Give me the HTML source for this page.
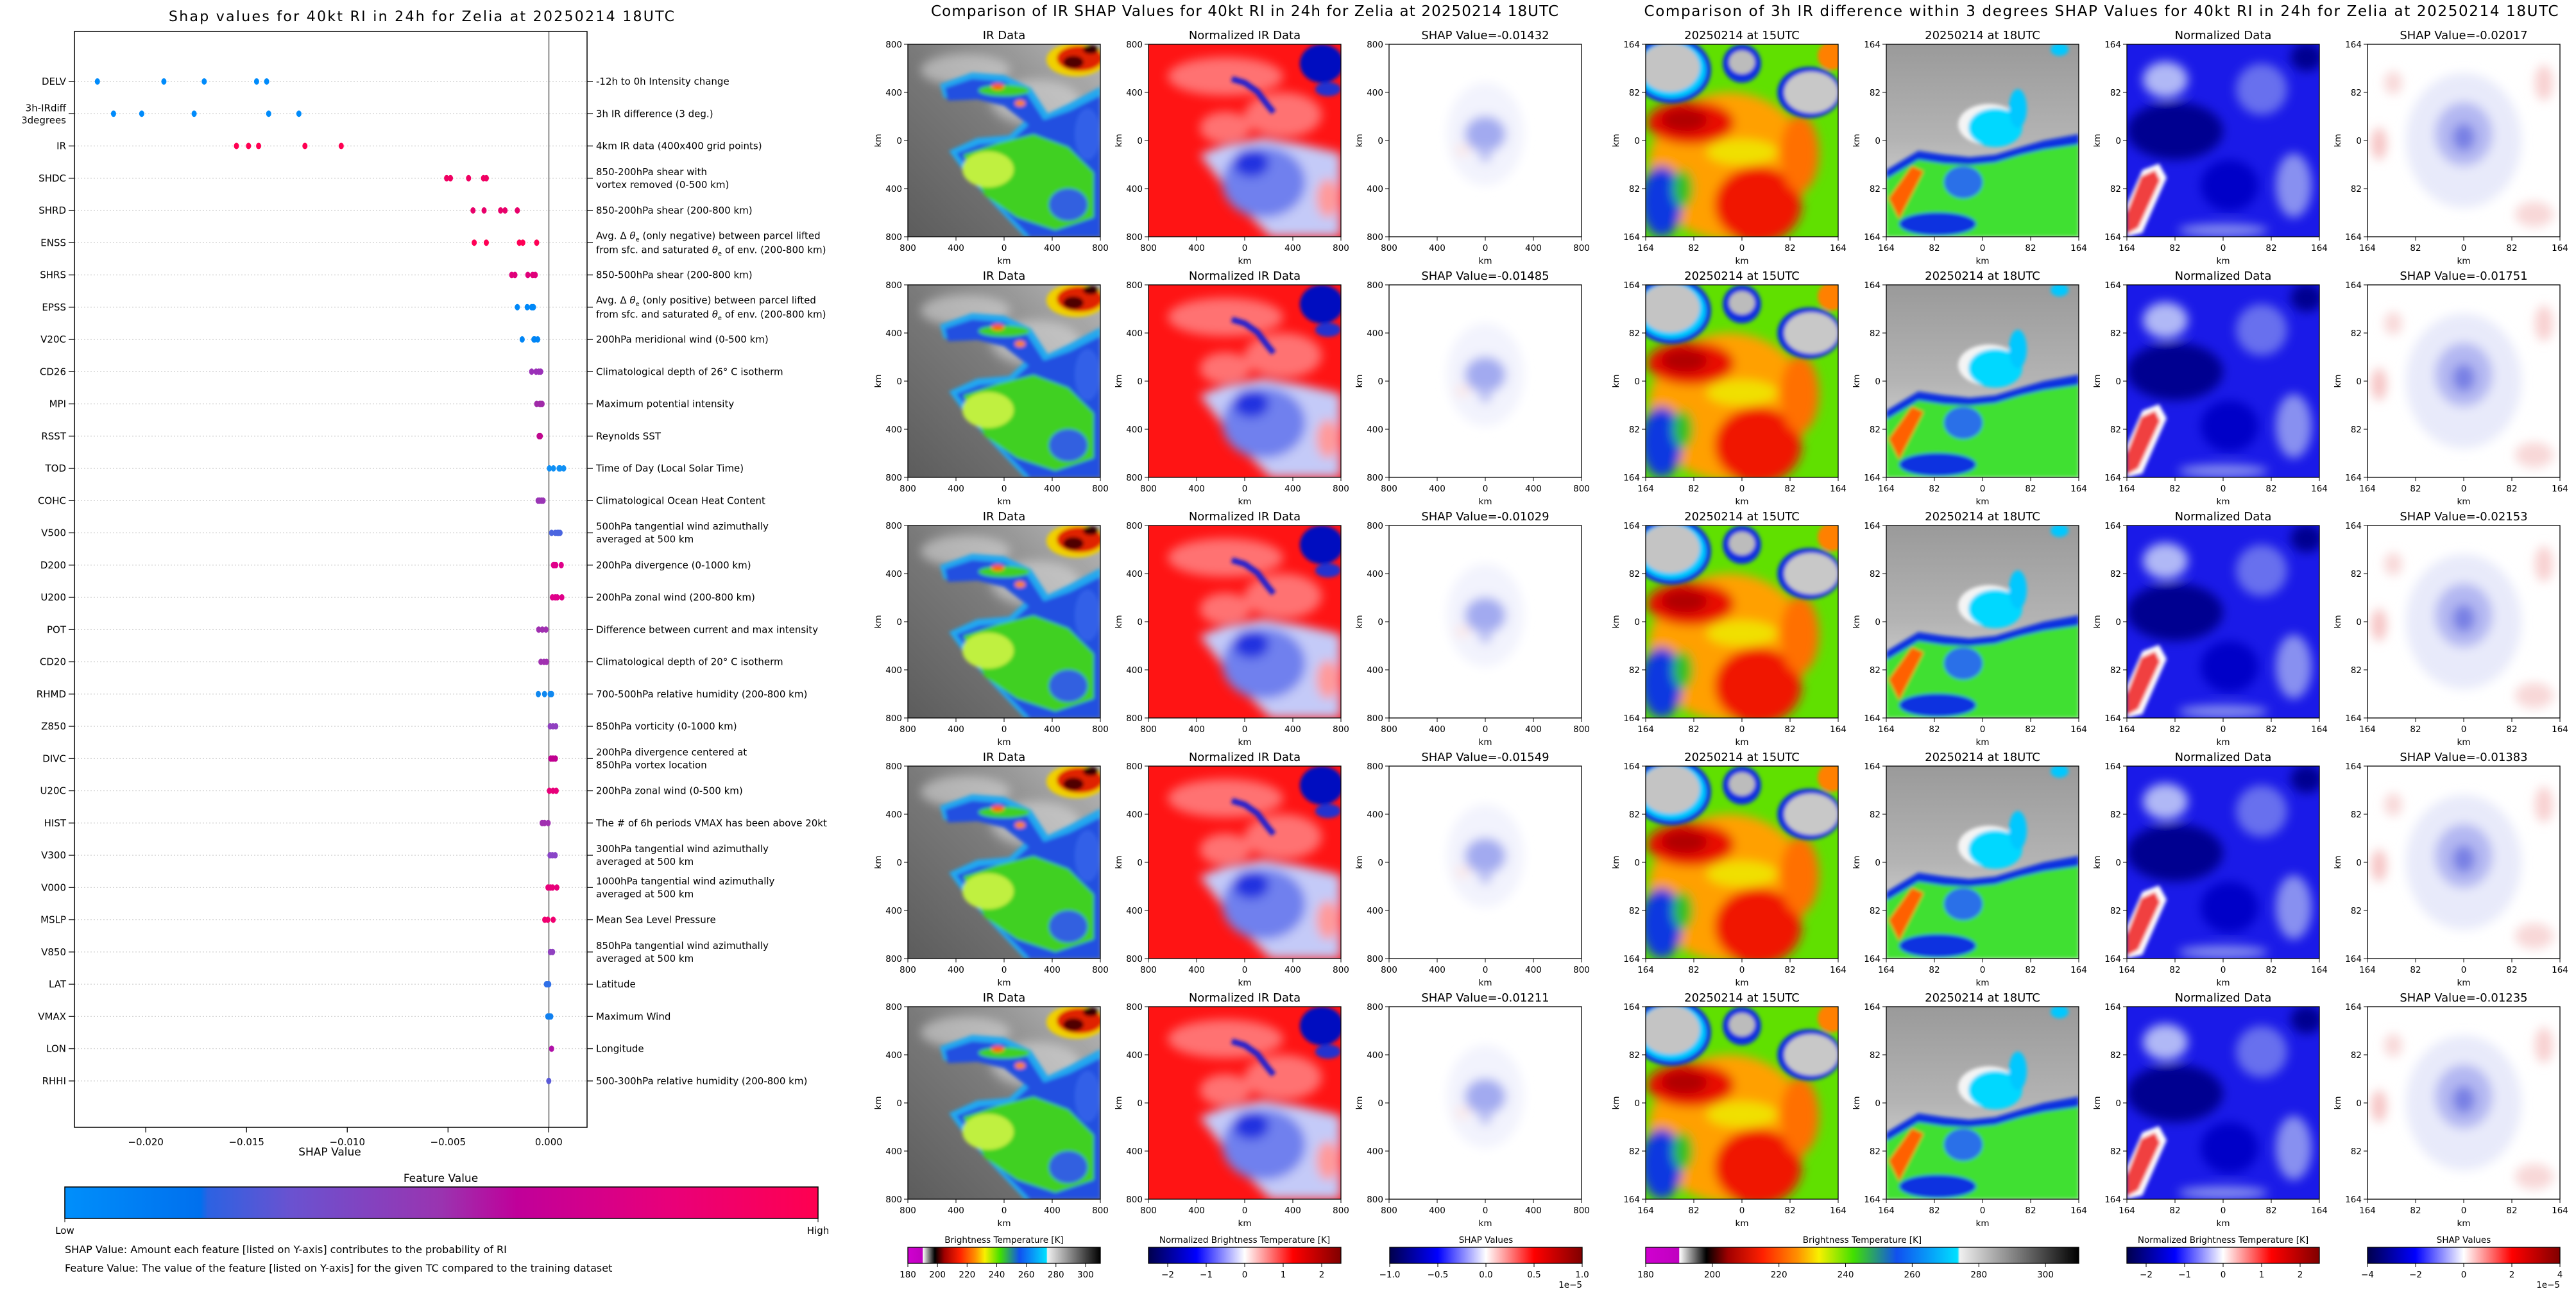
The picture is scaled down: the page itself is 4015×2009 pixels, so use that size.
<!DOCTYPE html>
<html><head><meta charset="utf-8"><title>SHAP RI Zelia</title>
<style>
html,body{margin:0;padding:0;background:#fff;}
svg{display:block;font-family:"DejaVu Sans","Liberation Sans",sans-serif;}
</style></head>
<body>
<svg id="fig" xmlns="http://www.w3.org/2000/svg" width="4015" height="2009" viewBox="0 0 4015 2009">
<defs>
  <filter id="bl3" x="-20%" y="-20%" width="140%" height="140%"><feGaussianBlur stdDeviation="3"/></filter>
  <filter id="bl8" x="-30%" y="-30%" width="160%" height="160%"><feGaussianBlur stdDeviation="8"/></filter>
  <linearGradient id="fvGrad" x1="0" x2="1" y1="0" y2="0">
    <stop offset="0" stop-color="#008ffb"/><stop offset="0.18" stop-color="#0070ee"/>
    <stop offset="0.19" stop-color="#2c62e2"/><stop offset="0.3" stop-color="#6a52d0"/>
    <stop offset="0.5" stop-color="#9a34b0"/><stop offset="0.6" stop-color="#c0009a"/>
    <stop offset="0.8" stop-color="#e8007a"/><stop offset="1" stop-color="#ff0050"/>
  </linearGradient>
  <linearGradient id="btGrad" x1="0" x2="1">
    <stop offset="0" stop-color="#d000d0"/><stop offset="0.077" stop-color="#c000c0"/>
    <stop offset="0.078" stop-color="#ffffff"/><stop offset="0.14" stop-color="#000000"/>
    <stop offset="0.19" stop-color="#a00000"/><stop offset="0.27" stop-color="#ff2000"/>
    <stop offset="0.35" stop-color="#ff9000"/><stop offset="0.4" stop-color="#f8f000"/>
    <stop offset="0.48" stop-color="#40e000"/><stop offset="0.58" stop-color="#1050f0"/>
    <stop offset="0.72" stop-color="#00e0ff"/><stop offset="0.725" stop-color="#f0f0f0"/>
    <stop offset="1" stop-color="#000000"/>
  </linearGradient>
  <linearGradient id="seis" x1="0" x2="1">
    <stop offset="0" stop-color="#00004c"/><stop offset="0.25" stop-color="#0000ff"/>
    <stop offset="0.5" stop-color="#ffffff"/><stop offset="0.75" stop-color="#ff0000"/>
    <stop offset="1" stop-color="#800000"/>
  </linearGradient>
  <linearGradient id="grayIR" x1="0" y1="1" x2="1" y2="0">
    <stop offset="0" stop-color="#5c5c5c"/><stop offset="0.5" stop-color="#7a7a7a"/><stop offset="1" stop-color="#b8b8b8"/>
  </linearGradient>
  <linearGradient id="gray18" x1="0" y1="0" x2="0" y2="1">
    <stop offset="0" stop-color="#9a9a9a"/><stop offset="0.5" stop-color="#b4b4b4"/><stop offset="1" stop-color="#e8e8e8"/>
  </linearGradient>

  <symbol id="p-ir" viewBox="0 0 300 300">
    <rect width="300" height="300" fill="url(#grayIR)"/>
    <g filter="url(#bl8)" fill="#e0e0e0" opacity="0.55">
      <ellipse cx="90" cy="40" rx="70" ry="25"/><ellipse cx="200" cy="90" rx="70" ry="35"/><ellipse cx="230" cy="150" rx="40" ry="30"/>
    </g>
    <g filter="url(#bl3)">
      <polygon fill="#20a8f0" points="50,62 100,44 150,48 192,68 218,108 252,92 300,66 300,300 182,300 136,252 90,202 64,166 108,146 158,142 182,120 148,88 108,78 56,84"/>
      <polygon fill="#2050e0" points="58,68 100,54 150,58 186,78 212,118 252,104 300,80 300,300 190,300 144,252 100,202 76,170 112,156 160,152 188,126 150,96 108,86 62,88"/>
      <polygon fill="#40d020" points="86,172 140,154 196,140 250,160 290,200 290,270 230,290 170,270 120,236"/>
      <ellipse cx="125" cy="195" rx="40" ry="28" fill="#c0f040"/>
      <ellipse cx="250" cy="250" rx="30" ry="25" fill="#3060e0"/>
      <ellipse cx="280" cy="140" rx="20" ry="40" fill="#3060e8"/>
      <ellipse cx="150" cy="72" rx="40" ry="9" fill="#40d020"/>
      <ellipse cx="140" cy="66" rx="10" ry="5" fill="#ff6000"/><ellipse cx="175" cy="92" rx="8" ry="5" fill="#ff8000"/>
      <ellipse cx="262" cy="24" rx="46" ry="26" fill="#f0d000"/>
      <ellipse cx="268" cy="22" rx="36" ry="20" fill="#e02000"/>
      <ellipse cx="258" cy="28" rx="16" ry="10" fill="#500000"/>
      <ellipse cx="285" cy="8" rx="12" ry="7" fill="#300000"/>
    </g>
  </symbol>

  <symbol id="p-nir" viewBox="0 0 300 300">
    <rect width="300" height="300" fill="#ff1414"/>
    <g filter="url(#bl8)" fill="#ffffff" opacity="0.4">
      <ellipse cx="120" cy="50" rx="90" ry="30"/><ellipse cx="210" cy="110" rx="60" ry="35"/><ellipse cx="120" cy="130" rx="40" ry="25"/>
    </g>
    <g filter="url(#bl8)">
      <polygon fill="#c4caf8" points="80,172 120,156 180,146 240,156 300,170 300,300 190,300 140,250"/>
      <ellipse cx="180" cy="215" rx="65" ry="55" fill="#7080ee"/>
      <ellipse cx="160" cy="185" rx="28" ry="22" fill="#2030e0"/>
      <ellipse cx="280" cy="240" rx="18" ry="30" fill="#ff9a9a"/>
    </g>
    <g filter="url(#bl3)">
      <polyline points="130,54 150,60 170,74 185,94 195,106" stroke="#1a1ad0" stroke-width="9" fill="none"/>
      <ellipse cx="270" cy="30" rx="34" ry="30" fill="#0010c0"/>
      <ellipse cx="280" cy="70" rx="20" ry="11" fill="#2030d0"/>
    </g>
  </symbol>

  <symbol id="p-shap" viewBox="0 0 300 300">
    <rect width="300" height="300" fill="#ffffff"/>
    <g filter="url(#bl8)">
      <ellipse cx="150" cy="140" rx="60" ry="80" fill="#f2f3fd"/>
      <ellipse cx="150" cy="140" rx="32" ry="28" fill="#a2aaf0"/>
      <ellipse cx="150" cy="172" rx="10" ry="12" fill="#b8bdf3"/>
      <ellipse cx="115" cy="165" rx="12" ry="9" fill="#fbe8e8"/>
    </g>
  </symbol>

  <symbol id="p-15" viewBox="0 0 300 300">
    <rect width="300" height="300" fill="#60e000"/>
    <g filter="url(#bl8)">
      <ellipse cx="130" cy="190" rx="125" ry="115" fill="#ffa000"/>
      <ellipse cx="70" cy="122" rx="68" ry="34" fill="#e81000"/>
      <ellipse cx="60" cy="118" rx="36" ry="18" fill="#b00000"/>
      <ellipse cx="175" cy="250" rx="68" ry="60" fill="#f01800"/>
      <ellipse cx="150" cy="168" rx="55" ry="20" fill="#f0e000"/>
      <ellipse cx="240" cy="170" rx="30" ry="60" fill="#ff7000"/>
      <ellipse cx="25" cy="245" rx="32" ry="55" fill="#1038e0"/>
      <ellipse cx="58" cy="225" rx="16" ry="30" fill="#30c020"/>
    </g>
    <g filter="url(#bl3)">
      <ellipse cx="40" cy="40" rx="62" ry="52" fill="#1030e0"/>
      <ellipse cx="40" cy="40" rx="54" ry="44" fill="#00c8ff"/>
      <ellipse cx="38" cy="36" rx="46" ry="38" fill="#c4c4c4"/>
      <ellipse cx="255" cy="75" rx="50" ry="40" fill="#1030e0"/>
      <ellipse cx="258" cy="75" rx="42" ry="32" fill="#c8c8c8"/>
      <ellipse cx="150" cy="30" rx="30" ry="30" fill="#1030e0"/>
      <ellipse cx="150" cy="28" rx="20" ry="18" fill="#bcbcbc"/>
      <ellipse cx="290" cy="18" rx="22" ry="22" fill="#ff8000"/>
    </g>
  </symbol>

  <symbol id="p-18" viewBox="0 0 300 300">
    <rect width="300" height="300" fill="url(#gray18)"/>
    <g filter="url(#bl3)">
      <ellipse cx="160" cy="125" rx="48" ry="32" fill="#f4f4f4"/>
      <polygon fill="#1030e0" points="0,196 50,166 90,172 130,176 170,172 210,160 245,150 300,140 300,300 0,300"/>
      <polygon fill="#40e030" points="0,210 50,180 90,186 130,188 170,184 210,172 245,164 300,156 300,300 0,300"/>
      <ellipse cx="170" cy="130" rx="42" ry="30" fill="#00d8ff"/>
      <ellipse cx="205" cy="100" rx="14" ry="30" fill="#00c8ff"/>
      <ellipse cx="120" cy="215" rx="30" ry="25" fill="#2a70e8"/>
      <polygon fill="#ff6000" points="4,240 40,190 58,198 20,272"/>
      <ellipse cx="80" cy="280" rx="60" ry="18" fill="#1030e0"/>
      <ellipse cx="270" cy="8" rx="14" ry="10" fill="#00c8ff"/>
    </g>
  </symbol>

  <symbol id="p-nd" viewBox="0 0 300 300">
    <rect width="300" height="300" fill="#1a1ae8"/>
    <g filter="url(#bl8)">
      <ellipse cx="60" cy="55" rx="35" ry="28" fill="#b0b8f6"/>
      <ellipse cx="210" cy="70" rx="40" ry="40" fill="#6870ee"/>
      <ellipse cx="260" cy="220" rx="28" ry="50" fill="#8890f0"/>
      <ellipse cx="150" cy="290" rx="70" ry="10" fill="#8890f0"/>
      <ellipse cx="75" cy="135" rx="75" ry="45" fill="#000090"/>
      <ellipse cx="160" cy="220" rx="45" ry="40" fill="#0000c8"/>
      <ellipse cx="280" cy="20" rx="25" ry="22" fill="#000090"/>
    </g>
    <g filter="url(#bl3)">
      <polygon fill="#ffffff" points="0,250 24,196 50,186 62,208 24,294 0,300"/>
      <polygon fill="#f04040" points="0,262 22,206 44,196 52,212 18,286 0,296"/>
    </g>
  </symbol>

  <symbol id="p-shap2" viewBox="0 0 300 300">
    <rect width="300" height="300" fill="#ffffff"/>
    <g filter="url(#bl8)">
      <ellipse cx="150" cy="150" rx="90" ry="105" fill="#e8eafa"/>
      <ellipse cx="150" cy="140" rx="45" ry="50" fill="#b4b8f2"/>
      <ellipse cx="150" cy="145" rx="18" ry="22" fill="#7880e4"/>
      <ellipse cx="18" cy="155" rx="12" ry="25" fill="#f6c4c4"/>
      <ellipse cx="275" cy="60" rx="14" ry="28" fill="#f8d0d0"/>
      <ellipse cx="260" cy="265" rx="30" ry="20" fill="#f8d8d8"/>
      <ellipse cx="40" cy="60" rx="14" ry="18" fill="#f8d8d8"/>
    </g>
  </symbol>
</defs>

<rect width="4015" height="2009" fill="#ffffff"/>

<text x="657" y="33" font-size="22" text-anchor="middle" textLength="788">Shap values for 40kt RI in 24h for Zelia at 20250214 18UTC</text>
<g id="shapPlot"></g>

<text x="687" y="1842" font-size="17" text-anchor="middle">Feature Value</text>
<rect x="101" y="1850" width="1174" height="49" fill="url(#fvGrad)" stroke="#000" stroke-width="1.5"/>
<line x1="101" y1="1899" x2="101" y2="1905" stroke="#000"/>
<line x1="1275" y1="1899" x2="1275" y2="1905" stroke="#000"/>
<text x="101" y="1923" font-size="15" text-anchor="middle">Low</text>
<text x="1275" y="1923" font-size="15" text-anchor="middle">High</text>
<text x="101" y="1953" font-size="16">SHAP Value: Amount each feature [listed on Y-axis] contributes to the probability of RI</text>
<text x="101" y="1982" font-size="16">Feature Value: The value of the feature [listed on Y-axis] for the given TC compared to the training dataset</text>

<text x="1940" y="25" font-size="23" text-anchor="middle" textLength="978">Comparison of IR SHAP Values for 40kt RI in 24h for Zelia at 20250214 18UTC</text>
<text x="3275" y="25" font-size="23" text-anchor="middle" textLength="1425">Comparison of 3h IR difference within 3 degrees SHAP Values for 40kt RI in 24h for Zelia at 20250214 18UTC</text>
<g id="panels"></g>
<g id="cbars"></g>
</svg>

<script>
const features = ["DELV","3h-IRdiff|3degrees","IR","SHDC","SHRD","ENSS","SHRS","EPSS","V20C","CD26","MPI","RSST","TOD","COHC","V500","D200","U200","POT","CD20","RHMD","Z850","DIVC","U20C","HIST","V300","V000","MSLP","V850","LAT","VMAX","LON","RHHI"];
const descriptions = ["-12h to 0h Intensity change","3h IR difference (3 deg.)","4km IR data (400x400 grid points)","850-200hPa shear with|vortex removed (0-500 km)","850-200hPa shear (200-800 km)","ENSS_DESC","850-500hPa shear (200-800 km)","EPSS_DESC","200hPa meridional wind (0-500 km)","Climatological depth of 26° C isotherm","Maximum potential intensity","Reynolds SST","Time of Day (Local Solar Time)","Climatological Ocean Heat Content","500hPa tangential wind azimuthally|averaged at 500 km","200hPa divergence (0-1000 km)","200hPa zonal wind (200-800 km)","Difference between current and max intensity","Climatological depth of 20° C isotherm","700-500hPa relative humidity (200-800 km)","850hPa vorticity (0-1000 km)","200hPa divergence centered at|850hPa vortex location","200hPa zonal wind (0-500 km)","The # of 6h periods VMAX has been above 20kt","300hPa tangential wind azimuthally|averaged at 500 km","1000hPa tangential wind azimuthally|averaged at 500 km","Mean Sea Level Pressure","850hPa tangential wind azimuthally|averaged at 500 km","Latitude","Maximum Wind","Longitude","500-300hPa relative humidity (200-800 km)"];
const shapValues = [
  [-0.0224,-0.0191,-0.0171,-0.0145,-0.0140],
  [-0.0216,-0.0202,-0.0176,-0.0139,-0.0124],
  [-0.0155,-0.0149,-0.0144,-0.0121,-0.0103],
  [-0.00507,-0.00488,-0.00398,-0.00324,-0.00310],
  [-0.00376,-0.00321,-0.00239,-0.00217,-0.00156],
  [-0.0037,-0.0031,-0.00146,-0.00129,-0.0006],
  [-0.00184,-0.00168,-0.00104,-0.0008,-0.00067],
  [-0.00156,-0.00107,-0.00085,-0.0008,-0.00076],
  [-0.00132,-0.00074,-0.0007,-0.00055],
  [-0.00085,-0.00063,-0.0005,-0.0004],
  [-0.0006,-0.00045,-0.0004,-0.00033],
  [-0.00048,-0.00042],
  [0.00003,0.00023,0.00051,0.00056,0.00074],
  [-0.00053,-0.00045,-0.00035,-0.00028],
  [0.00014,0.00032,0.00042,0.00048,0.00056],
  [0.00023,0.00028,0.00035,0.00062],
  [0.00018,0.00032,0.00042,0.00065],
  [-0.0005,-0.00032,-0.00014],
  [-0.00039,-0.00024,-0.00011],
  [-0.00052,-0.00021,0.00007,0.00014],
  [0.00007,0.00021,0.00035],
  [0.0001,0.00021,0.00033],
  [0.00003,0.00021,0.00037],
  [-0.00033,-0.00021,-0.00003],
  [0.00006,0.00018,0.00032],
  [-0.00004,0.00008,0.00019,0.0004],
  [-0.0002,-0.00005,0.00022],
  [0.00008,0.00019],
  [-0.00012,-0.00006,0.0],
  [-0.00005,0.00004,0.0001],
  [0.00014],
  [0.0]
];
const dotColors = ["#008bfb","#008bfb","#ff0052","#f00062","#e8006a","#ff0055","#e0007a","#0088f8","#0085f5","#9a30b8","#a02aa8","#c0088f","#1090f5","#9a35b5","#4a65e0","#e0008a","#e0008a","#a030b0","#a030b0","#1088f0","#9040c0","#c00090","#e8007a","#a030b0","#8a45c8","#e8007a","#f00070","#9040c0","#3070e8","#1080f0","#b010a8","#5a5ad8"];
const xTicks = [-0.020,-0.015,-0.010,-0.005,0.000];
const xTickLabels = ["\u22120.020","\u22120.015","\u22120.010","\u22120.005","0.000"];

const NS = "http://www.w3.org/2000/svg";
function mk(tag, attrs, parent){ const e=document.createElementNS(NS,tag); for(const k in attrs) e.setAttribute(k,attrs[k]); if(parent) parent.appendChild(e); return e; }

const AX = {left:116, right:915, top:49, bottom:1757};
const xMin=-0.02354, xMax=0.0019;
function xScale(v){ return AX.left + (v-xMin)/(xMax-xMin)*(AX.right-AX.left); }
function yScale(i){ return 127 + i*50.25; }

(function drawShap(){
  const g=document.getElementById('shapPlot');
  features.forEach((f,i)=>{
    const y=yScale(i);
    const gl=mk('line',{x1:AX.left,x2:AX.right,y1:y,y2:y,stroke:'#cccccc','stroke-width':1.2,'stroke-dasharray':'2,3'},g);
    
    
  });
  const zl=mk('line',{x1:xScale(0),x2:xScale(0),y1:AX.top,y2:AX.bottom,stroke:'#999999','stroke-width':2.2},g);
  
  
  const fr=mk('rect',{x:AX.left,y:AX.top,width:AX.right-AX.left,height:AX.bottom-AX.top,fill:'none',stroke:'#000','stroke-width':1.5},g);
  
  
  features.forEach((f,i)=>{
    const y=yScale(i);
    mk('line',{x1:AX.left-9,x2:AX.left,y1:y,y2:y,stroke:'#000','stroke-width':1.3},g);
    mk('line',{x1:AX.right,x2:AX.right+9,y1:y,y2:y,stroke:'#000','stroke-width':1.3},g);
    const parts=f.split('|');
    const t=mk('text',{x:AX.left-13,y:y+5-(parts.length-1)*9,'font-size':15,'text-anchor':'end'},g);
    parts.forEach((p,k)=>{ const s=mk('tspan',{x:AX.left-13,dy:k?19:0},t); s.textContent=p; });
    
    
    const d=descriptions[i];
    const rt=mk('text',{x:AX.right+14,'font-size':15},g);
    
    
    if(d==='ENSS_DESC'||d==='EPSS_DESC'){
      const word = d==='ENSS_DESC'?'negative':'positive';
      rt.setAttribute('y',y-6);
      rt.innerHTML='<tspan>Avg. \u0394 </tspan><tspan font-style="italic">\u03b8</tspan><tspan font-size="10" dy="4">e</tspan><tspan dy="-4"> (only '+word+') between parcel lifted</tspan>'+
        '<tspan x="'+(AX.right+14)+'" dy="22">from sfc. and saturated </tspan><tspan font-style="italic">\u03b8</tspan><tspan font-size="10" dy="4">e</tspan><tspan dy="-4"> of env. (200-800 km)</tspan>';
    } else {
      const ps=d.split('|');
      rt.setAttribute('y',y+5-(ps.length-1)*10);
      ps.forEach((p,k)=>{ const s=mk('tspan',{x:AX.right+14,dy:k?20:0},rt); s.textContent=p; });
    }
    shapValues[i].forEach((v,j)=>{
      const c=mk('ellipse',{cx:xScale(v),cy:y,rx:4,ry:5,fill:dotColors[i]},g);
      
      
    });
  });
  xTicks.forEach((v,k)=>{
    const x=xScale(v);
    mk('line',{x1:x,x2:x,y1:AX.bottom,y2:AX.bottom+8,stroke:'#000','stroke-width':1.3},g);
    const t=mk('text',{x:x,y:AX.bottom+28,'font-size':15,'text-anchor':'middle'},g);
    t.textContent=xTickLabels[k];
    
    
  });
  const xl=mk('text',{x:514,y:1801,'font-size':17,'text-anchor':'middle'},g);
  xl.textContent='SHAP Value';
  
  
})();

const irShapValues = [-0.01432,-0.01485,-0.01029,-0.01549,-0.01211];
const diffShapValues = [-0.02017,-0.01751,-0.02153,-0.01383,-0.01235];
const irTickLabels = ["800","400","0","400","800"];
const diffTickLabels = ["164","82","0","82","164"];

const colsL=[1415,1790,2165], colsR=[2565,2940,3315,3690];
const rowTop=69, rowPitch=375, P=300;

function panel(g,x,y,sym,title,ticks,name){
  const u=mk('use',{href:'#'+sym,x:x,y:y,width:P,height:P},g);
  
  
  mk('rect',{x:x,y:y,width:P,height:P,fill:'none',stroke:'#000','stroke-width':1.3},g);
  const tt=mk('text',{x:x+P/2,y:y-8,'font-size':18,'text-anchor':'middle'},g);
  tt.textContent=title;
  
  
  ticks.forEach((lab,k)=>{
    const p=k*P/4;
    mk('line',{x1:x-6,x2:x,y1:y+p,y2:y+p,stroke:'#000'},g);
    const ty=mk('text',{x:x-9,y:y+p+5,'font-size':13.5,'text-anchor':'end'},g); ty.textContent=lab;
    mk('line',{x1:x+p,x2:x+p,y1:y+P,y2:y+P+6,stroke:'#000'},g);
    const tx=mk('text',{x:x+p,y:y+P+22,'font-size':13.5,'text-anchor':'middle'},g); tx.textContent=lab;
  });
  const xl=mk('text',{x:x+P/2,y:y+P+42,'font-size':13.5,'text-anchor':'middle'},g); xl.textContent='km';
  const yl=mk('text',{x:0,y:0,'font-size':13.5,'text-anchor':'middle',transform:'translate('+(x-42)+','+(y+P/2)+') rotate(-90)'},g); yl.textContent='km';
}

(function drawPanels(){
  const g=document.getElementById('panels');
  for(let r=0;r<5;r++){
    const y=rowTop+r*rowPitch;
    panel(g,colsL[0],y,'p-ir','IR Data',irTickLabels,'ir-data-r'+r);
    panel(g,colsL[1],y,'p-nir','Normalized IR Data',irTickLabels,'normalized-ir-r'+r);
    panel(g,colsL[2],y,'p-shap','SHAP Value='+irShapValues[r].toFixed(5),irTickLabels,'ir-shap-r'+r);
    panel(g,colsR[0],y,'p-15','20250214 at 15UTC',diffTickLabels,'ir-15utc-r'+r);
    panel(g,colsR[1],y,'p-18','20250214 at 18UTC',diffTickLabels,'ir-18utc-r'+r);
    panel(g,colsR[2],y,'p-nd','Normalized Data',diffTickLabels,'normalized-diff-r'+r);
    panel(g,colsR[3],y,'p-shap2','SHAP Value='+diffShapValues[r].toFixed(5),diffTickLabels,'diff-shap-r'+r);
  }
})();

const cbDefs = [
  {x:1415,w:300,grad:'btGrad',title:'Brightness Temperature [K]',min:180,max:310,ticks:[180,200,220,240,260,280,300],exp:false,name:'bt-colorbar-1'},
  {x:1790,w:300,grad:'seis',title:'Normalized Brightness Temperature [K]',min:-2.5,max:2.5,ticks:[-2,-1,0,1,2],exp:false,name:'norm-bt-colorbar-1'},
  {x:2166,w:300,grad:'seis',title:'SHAP Values',min:-1,max:1,ticks:[-1.0,-0.5,0.0,0.5,1.0],dec:1,exp:true,name:'shap-colorbar-1'},
  {x:2565,w:675,grad:'btGrad',title:'Brightness Temperature [K]',min:180,max:310,ticks:[180,200,220,240,260,280,300],exp:false,name:'bt-colorbar-2'},
  {x:3315,w:300,grad:'seis',title:'Normalized Brightness Temperature [K]',min:-2.5,max:2.5,ticks:[-2,-1,0,1,2],exp:false,name:'norm-bt-colorbar-2'},
  {x:3690,w:300,grad:'seis',title:'SHAP Values',min:-4,max:4,ticks:[-4,-2,0,2,4],exp:true,name:'shap-colorbar-2'}
];
(function drawCbars(){
  const g=document.getElementById('cbars');
  cbDefs.forEach(c=>{
    const t=mk('text',{x:c.x+c.w/2,y:1937,'font-size':13.5,'text-anchor':'middle'},g); t.textContent=c.title;
    
    
    const r=mk('rect',{x:c.x,y:1944,width:c.w,height:25,fill:'url(#'+c.grad+')',stroke:'#000','stroke-width':1.3},g);
    
    
    c.ticks.forEach(v=>{
      const x=c.x+(v-c.min)/(c.max-c.min)*c.w;
      mk('line',{x1:x,x2:x,y1:1969,y2:1975,stroke:'#000'},g);
      const lab = c.dec ? v.toFixed(1) : String(v);
      const tx=mk('text',{x:x,y:1991,'font-size':13.5,'text-anchor':'middle'},g); tx.textContent=lab.replace('-','\u2212');
    });
    if(c.exp){ const e=mk('text',{x:c.x+c.w,y:2007,'font-size':13.5,'text-anchor':'end'},g); e.textContent='1e\u22125'; }
  });
})();
</script>
</body></html>
